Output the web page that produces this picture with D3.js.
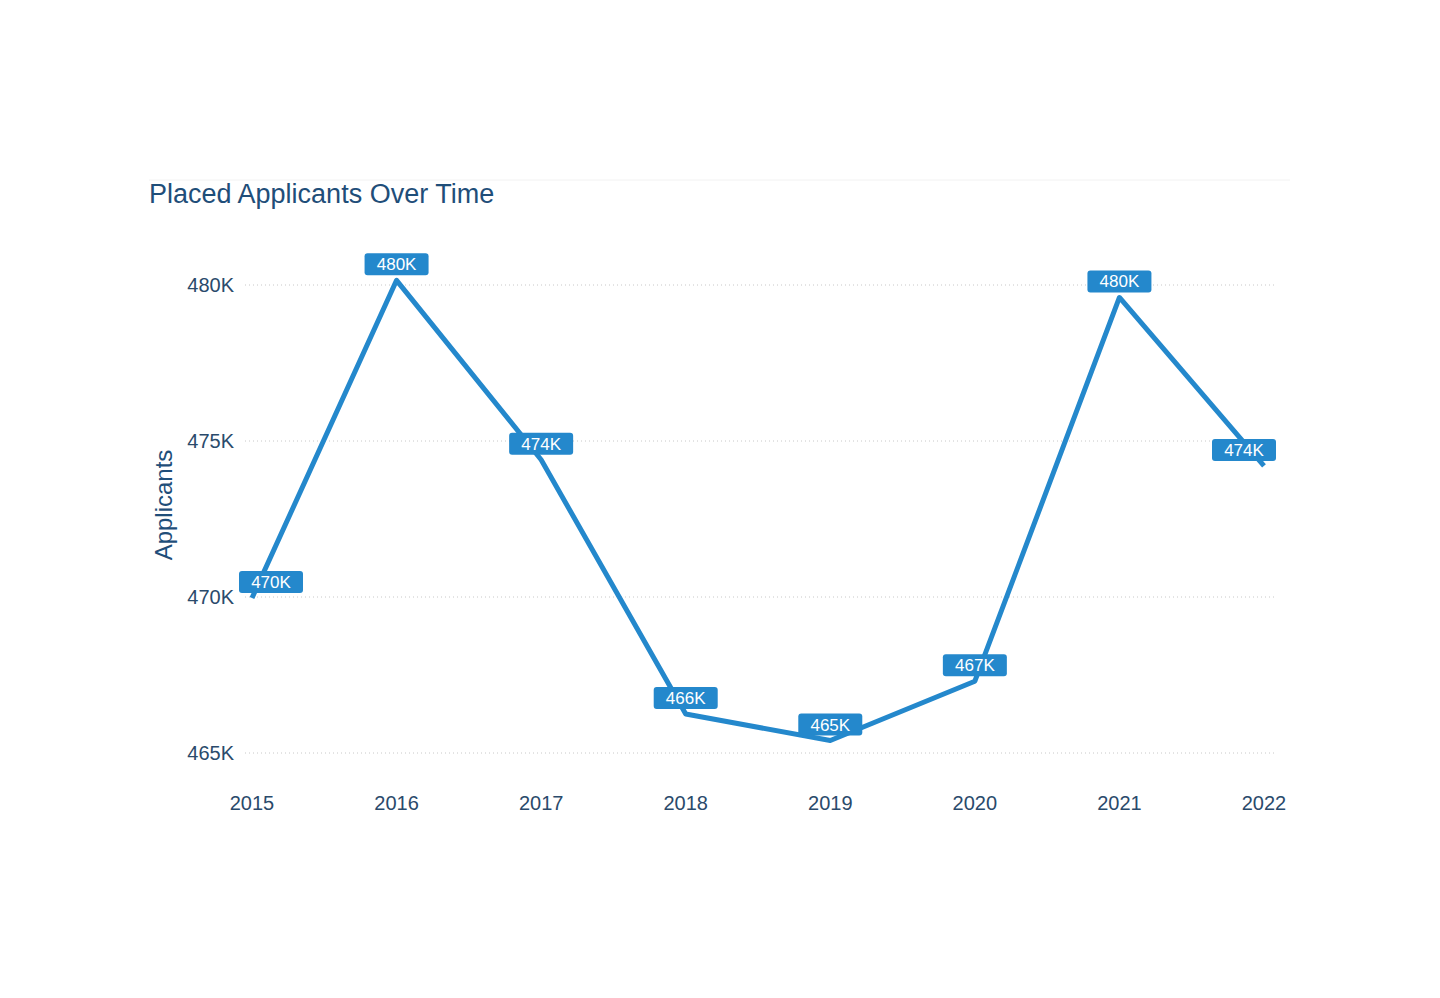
<!DOCTYPE html>
<html>
<head>
<meta charset="utf-8">
<script src="https://cdn.jsdelivr.net/npm/d3@7"></script>
<style>
  body { margin: 0; background: #fff; font-family: "Liberation Sans", Arial, sans-serif; }
</style>
</head>
<body>
<div id="chart"></div>
<script>
var years = [2015, 2016, 2017, 2018, 2019, 2020, 2021, 2022];
var applicants = [469970, 480150, 474400, 466250, 465400, 467300, 479600, 474200];
var yTicks = [465000, 470000, 475000, 480000];

var width = 1440, height = 998;
var lineColor = "#2488cc", textColor = "#2a4a6b";

var svg = d3.select("#chart").append("svg")
    .attr("width", width)
    .attr("height", height);

var x = d3.scalePoint().domain(years).range([252, 1264]);
var y = d3.scaleLinear().domain([465000, 480000]).range([753, 285]);
var fmt = function(v) { return Math.round(v / 1000) + "K"; };

// faint top rule + title
svg.append("line").attr("x1", 149).attr("x2", 1290).attr("y1", 180).attr("y2", 180)
    .attr("stroke", "#f2f2f2");
svg.append("text").attr("x", 149).attr("y", 203)
    .attr("font-size", 27).attr("fill", "#1f4e79")
    .text("Placed Applicants Over Time");

// grid
svg.selectAll(".grid").data(yTicks).enter().append("line")
    .attr("x1", 245).attr("x2", 1275)
    .attr("y1", function(d) { return y(d); }).attr("y2", function(d) { return y(d); })
    .attr("stroke", "#c8c8c8").attr("stroke-dasharray", "1,3");

// y axis labels
svg.selectAll(".ytick").data(yTicks).enter().append("text")
    .attr("x", 234).attr("y", function(d) { return y(d) + 7; })
    .attr("text-anchor", "end").attr("font-size", 20).attr("fill", textColor)
    .text(fmt);

svg.append("text")
    .attr("transform", "translate(172,505) rotate(-90)")
    .attr("text-anchor", "middle").attr("font-size", 24).attr("fill", "#1f4e79")
    .text("Applicants");

// x axis labels
svg.selectAll(".xtick").data(years).enter().append("text")
    .attr("x", function(d) { return x(d); }).attr("y", 810)
    .attr("text-anchor", "middle").attr("font-size", 20).attr("fill", textColor)
    .text(function(d) { return d; });

// line
var line = d3.line()
    .x(function(d, i) { return x(years[i]); })
    .y(function(d) { return y(d); });
svg.append("path").datum(applicants)
    .attr("d", line).attr("fill", "none")
    .attr("stroke", lineColor).attr("stroke-width", 5)
    .attr("stroke-linejoin", "round");

// value labels
var labels = svg.selectAll(".lbl").data(applicants).enter().append("g")
    .attr("transform", function(d, i) {
        var cx = x(years[i]);
        if (i === 0) cx += 19;
        if (i === years.length - 1) cx -= 20;
        return "translate(" + cx + "," + (y(d) - 16) + ")";
    });
labels.append("rect")
    .attr("x", -32).attr("y", -11).attr("width", 64).attr("height", 22)
    .attr("rx", 3).attr("fill", lineColor);
labels.append("text")
    .attr("text-anchor", "middle").attr("y", 6)
    .attr("font-size", 17).attr("fill", "#fff")
    .text(fmt);
</script>
</body>
</html>
